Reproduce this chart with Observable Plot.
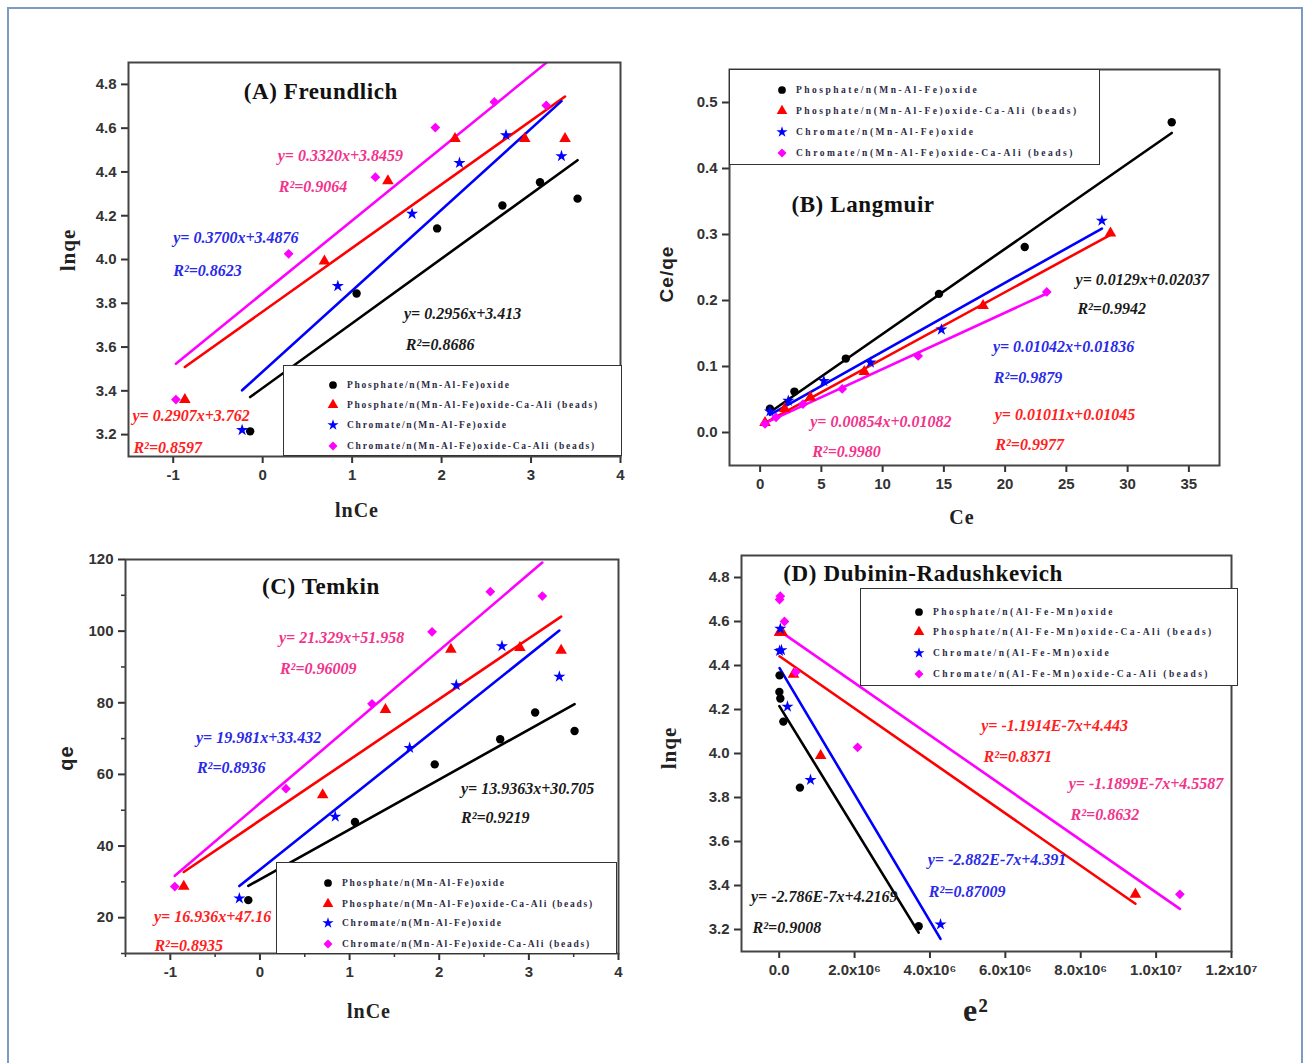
<!DOCTYPE html>
<html>
<head>
<meta charset="utf-8">
<script src="https://cdn.jsdelivr.net/npm/d3@7"></script>
<script src="https://cdn.jsdelivr.net/npm/@observablehq/plot@0.6"></script>
<style>
  html, body { margin: 0; padding: 0; background: #fff; }
  #root { position: relative; width: 1306px; height: 1063px; overflow: hidden; background: #fff; }
  .frame-border { position: absolute; left: 7px; top: 7px; width: 1296px; height: 1100px; border: 2px solid #7b9ac4; box-sizing: border-box; }
  .plotbox { position: absolute; }
  .axlabel { position: absolute; font-family: "Liberation Serif", "Times New Roman", serif; font-weight: bold; color: #222; white-space: nowrap; transform: translate(-50%, -50%); }
  .axlabel.sans { font-family: "Liberation Sans", Arial, sans-serif; }
  .axlabel.rot { transform: translate(-50%, -50%) rotate(-90deg); }
  .legend { position: absolute; background: #fff; border: 1.5px solid #333; box-sizing: border-box; }
  .legtext { position: absolute; font-family: "Liberation Serif", "Times New Roman", serif; font-weight: bold; font-size: 9.5px; color: #2b2b45; white-space: nowrap; transform: translateY(-50%); }
</style>
</head>
<body>
<div id="root"><div class="frame-border"></div></div>
<script>
// ---------------- DATA ----------------
const seriesNames = [
  "Phosphate/n(Mn-Al-Fe)oxide",
  "Phosphate/n(Mn-Al-Fe)oxide-Ca-Ali (beads)",
  "Chromate/n(Mn-Al-Fe)oxide",
  "Chromate/n(Mn-Al-Fe)oxide-Ca-Ali (beads)"
];
const seriesNamesD = [
  "Phosphate/n(Al-Fe-Mn)oxide",
  "Phosphate/n(Al-Fe-Mn)oxide-Ca-Ali (beads)",
  "Chromate/n(Al-Fe-Mn)oxide",
  "Chromate/n(Al-Fe-Mn)oxide-Ca-Ali (beads)"
];

// (A) Freundlich: lnCe vs lnqe
const freundlichX = [
  [-0.14, 1.05, 1.95, 2.68, 3.10, 3.52],
  [-0.87, 0.69, 1.40, 2.15, 2.93, 3.38],
  [-0.23, 0.84, 1.67, 2.20, 2.72, 3.34],
  [-0.97, 0.29, 1.26, 1.93, 2.59, 3.17]
];
const freundlichY = [
  [3.215, 3.845, 4.142, 4.247, 4.353, 4.278],
  [3.360, 3.992, 4.359, 4.552, 4.552, 4.552],
  [3.221, 3.879, 4.209, 4.441, 4.568, 4.472],
  [3.360, 4.026, 4.376, 4.603, 4.720, 4.704]
];
const freundlichSlope = [0.2956, 0.2907, 0.3700, 0.3320];
const freundlichIntercept = [3.413, 3.762, 3.4876, 3.8459];
const freundlichEq = ["y= 0.2956x+3.413", "y= 0.2907x+3.762", "y= 0.3700x+3.4876", "y= 0.3320x+3.8459"];
const freundlichR2 = ["0.8686", "0.8597", "0.8623", "0.9064"];
const freundlichXTicks = [-1, 0, 1, 2, 3, 4];
const freundlichYTicks = [3.2, 3.4, 3.6, 3.8, 4.0, 4.2, 4.4, 4.6, 4.8];

// (B) Langmuir: Ce vs Ce/qe
const langmuirX = [
  [0.8, 2.8, 7.0, 14.6, 21.6, 33.6],
  [0.4, 2.0, 4.1, 8.5, 18.2, 28.6],
  [0.8, 2.3, 5.2, 9.0, 14.8, 27.9],
  [0.4, 1.3, 3.5, 6.7, 12.9, 23.4]
];
const langmuirY = [
  [0.036, 0.062, 0.112, 0.210, 0.281, 0.470],
  [0.015, 0.036, 0.053, 0.092, 0.192, 0.302],
  [0.032, 0.048, 0.078, 0.106, 0.156, 0.321],
  [0.013, 0.023, 0.043, 0.066, 0.116, 0.213]
];
const langmuirSlope = [0.0129, 0.01011, 0.01042, 0.00854];
const langmuirIntercept = [0.02037, 0.01045, 0.01836, 0.01082];
const langmuirEq = ["y= 0.0129x+0.02037", "y= 0.01011x+0.01045", "y= 0.01042x+0.01836", "y= 0.00854x+0.01082"];
const langmuirR2 = ["0.9942", "0.9977", "0.9879", "0.9980"];
const langmuirXTicks = [0, 5, 10, 15, 20, 25, 30, 35];
const langmuirYTicks = [0.0, 0.1, 0.2, 0.3, 0.4, 0.5];

// (C) Temkin: lnCe vs qe
const temkinX = [
  [-0.13, 1.06, 1.95, 2.68, 3.07, 3.51],
  [-0.85, 0.70, 1.40, 2.13, 2.90, 3.36],
  [-0.23, 0.84, 1.67, 2.19, 2.70, 3.34],
  [-0.95, 0.29, 1.25, 1.92, 2.57, 3.15]
];
const temkinY = [
  [24.9, 46.7, 62.8, 69.8, 77.3, 72.1],
  [28.7, 54.3, 78.1, 94.9, 95.4, 94.6],
  [25.4, 48.2, 67.4, 84.9, 95.8, 87.3],
  [28.7, 56.0, 79.7, 99.8, 111.0, 109.8]
];
const temkinSlope = [13.9363, 16.936, 19.981, 21.329];
const temkinIntercept = [30.705, 47.16, 33.432, 51.958];
const temkinEq = ["y= 13.9363x+30.705", "y= 16.936x+47.16", "y= 19.981x+33.432", "y= 21.329x+51.958"];
const temkinR2 = ["0.9219", "0.8935", "0.8936", "0.96009"];
const temkinXTicks = [-1, 0, 1, 2, 3, 4];
const temkinXMinor = [-1.5, -0.5, 0.5, 1.5, 2.5, 3.5];
const temkinYTicks = [20, 40, 60, 80, 100, 120];
const temkinYMinor = [10, 30, 50, 70, 90, 110];

// (D) Dubinin-Radushkevich: e^2 vs lnqe
const drX = [
  [3.70e6, 0.55e6, 0.11e6, 0.03e6, 0.01e6, 0.005e6],
  [9.45e6, 1.10e6, 0.38e6, 0.08e6, 0.02e6, 0.01e6],
  [4.28e6, 0.83e6, 0.22e6, 0.06e6, 0.03e6, 0.01e6],
  [10.63e6, 2.08e6, 0.44e6, 0.14e6, 0.03e6, 0.01e6]
];
const drY = [
  [3.215, 3.845, 4.145, 4.250, 4.355, 4.280],
  [3.360, 3.990, 4.360, 4.550, 4.550, 4.550],
  [3.223, 3.880, 4.213, 4.470, 4.567, 4.466],
  [3.360, 4.028, 4.370, 4.600, 4.715, 4.700]
];
const drSlope = [-2.786e-7, -1.1914e-7, -2.882e-7, -1.1899e-7];
const drIntercept = [4.2169, 4.443, 4.391, 4.5587];
const drEq = ["y= -2.786E-7x+4.2169", "y= -1.1914E-7x+4.443", "y= -2.882E-7x+4.391", "y= -1.1899E-7x+4.5587"];
const drR2 = ["0.9008", "0.8371", "0.87009", "0.8632"];
const drXTicks = [0, 2e6, 4e6, 6e6, 8e6, 10e6, 12e6];
const drXTickLabels = ["0.0", "2.0x10\u2076", "4.0x10\u2076", "6.0x10\u2076", "8.0x10\u2076", "1.0x10\u2077", "1.2x10\u2077"];
const drYTicks = [3.2, 3.4, 3.6, 3.8, 4.0, 4.2, 4.4, 4.6, 4.8];

// ---------------- STYLE / LAYOUT ----------------
const markColors = ["#000000", "#ff0000", "#0000ff", "#ff00ff"];
const textColors = ["#1a1a1a", "#ff2020", "#2a2ae8", "#f2338c"];
const symbolNames = ["circle", "triangle", "star", "diamond2"];
const d3Symbols = [d3.symbolCircle, d3.symbolTriangle, d3.symbolStar, d3.symbolDiamond2];
const symbolR = [4.2, 4.3, 3.8, 4.4];
const intFmt = (d) => String(d);
const oneDec = (d) => d.toFixed(1);

const panels = [
  {
    left: 0, top: 0, width: 650, height: 530, margin: [62, 30, 74, 128],
    xDomain: [-1.5, 4], yDomain: [3.1, 4.9],
    xs: freundlichX, ys: freundlichY, slopes: freundlichSlope, intercepts: freundlichIntercept,
    eqs: freundlichEq, r2: freundlichR2,
    xTicks: freundlichXTicks, yTicks: freundlichYTicks, xFmt: intFmt, yFmt: oneDec,
    title: "(A) Freundlich", titlePos: [0.65, 4.767],
    annPos: [[1.58, 3.753, 1.60, 3.61], [-1.456, 3.285, -1.445, 3.138], [-1.0, 4.097, -1.0, 3.95], [0.168, 4.472, 0.18, 4.33]],
    names: seriesNames,
    legend: { left: 283, top: 365, w: 339, h: 91, rows: [19, 39, 59, 80], sx: 49, tx: 63, ls: 1.75 },
    xLabel: { text: "lnCe", x: 357, y: 510, size: 20, cls: "" },
    yLabel: { text: "lnqe", x: 68, y: 250, size: 21, cls: "rot" }
  },
  {
    left: 650, top: 0, width: 656, height: 530, margin: [69, 87, 65, 79],
    xDomain: [-2.5, 37.5], yDomain: [-0.05, 0.55],
    xs: langmuirX, ys: langmuirY, slopes: langmuirSlope, intercepts: langmuirIntercept,
    eqs: langmuirEq, r2: langmuirR2,
    xTicks: langmuirXTicks, yTicks: langmuirYTicks, xFmt: intFmt, yFmt: oneDec,
    title: "(B) Langmuir", titlePos: [8.4, 0.345],
    annPos: [[25.75, 0.232, 25.9, 0.188], [19.15, 0.027, 19.2, -0.019], [19.0, 0.129, 19.07, 0.083], [4.09, 0.016, 4.25, -0.029]],
    names: seriesNames,
    legend: { left: 729, top: 69, w: 371, h: 96, rows: [19.5, 41, 62, 83], sx: 52, tx: 66, ls: 2.5 },
    xLabel: { text: "Ce", x: 962, y: 517, size: 20, cls: "" },
    yLabel: { text: "Ce/qe", x: 667, y: 274, size: 19, cls: "rot sans" }
  },
  {
    left: 0, top: 530, width: 650, height: 533, margin: [29, 32, 110, 125],
    xDomain: [-1.5, 4], yDomain: [10, 120],
    xs: temkinX, ys: temkinY, slopes: temkinSlope, intercepts: temkinIntercept,
    eqs: temkinEq, r2: temkinR2,
    xTicks: temkinXTicks, yTicks: temkinYTicks, xMinor: temkinXMinor, yMinor: temkinYMinor,
    xFmt: intFmt, yFmt: intFmt,
    title: "(C) Temkin", titlePos: [0.68, 112.5],
    annPos: [[2.243, 56.0, 2.243, 47.8], [-1.183, 20.2, -1.177, 12.25], [-0.714, 70.25, -0.703, 61.75], [0.212, 98.0, 0.223, 89.6]],
    names: seriesNames,
    legend: { left: 276, top: 862, w: 341, h: 92, rows: [20, 40.5, 60, 80.5], sx: 51, tx: 65, ls: 1.75 },
    xLabel: { text: "lnCe", x: 369, y: 1011, size: 20, cls: "" },
    yLabel: { text: "qe", x: 66, y: 758, size: 20, cls: "rot sans" }
  },
  {
    left: 650, top: 530, width: 656, height: 533, margin: [25, 75, 112, 91],
    xDomain: [-1e6, 1.2e7], yDomain: [3.1, 4.9],
    xs: drX, ys: drY, slopes: drSlope, intercepts: drIntercept,
    eqs: drEq, r2: drR2,
    xTicks: drXTicks, yTicks: drYTicks, xFmt: (d) => drXTickLabels[drXTicks.indexOf(d)], yFmt: oneDec,
    title: "(D) Dubinin-Radushkevich", titlePos: [3.82e6, 4.819],
    annPos: [[-0.75e6, 3.348, -0.706e6, 3.209], [5.36e6, 4.124, 5.42e6, 3.985], [3.94e6, 3.515, 3.97e6, 3.371], [7.68e6, 3.86, 7.73e6, 3.72]],
    names: seriesNamesD,
    legend: { left: 860, top: 588, w: 378, h: 98, rows: [22.5, 43, 63.5, 85], sx: 58, tx: 72, ls: 2.45 },
    xLabel: { text: "e\u00b2", x: 976, y: 1010, size: 32, cls: "" },
    yLabel: { text: "lnqe", x: 669, y: 748, size: 21, cls: "rot" }
  }
];

const root = document.getElementById("root");
const tickFont = "Liberation Sans, Arial, sans-serif";
const serif = "Liberation Serif, Times New Roman, serif";

function drawPanel(p) {
  const [mt, mr, mb, ml] = p.margin;
  const marks = [];
  // axes
  marks.push(Plot.axisX(p.xTicks, { anchor: "bottom", tickSize: 7, tickPadding: 6, tickFormat: p.xFmt, fontSize: 15, fontWeight: "bold", fontFamily: tickFont, color: "#333", strokeWidth: 2, label: null }));
  marks.push(Plot.axisY(p.yTicks, { anchor: "left", tickSize: 7, tickPadding: 5, tickFormat: p.yFmt, fontSize: 15, fontWeight: "bold", fontFamily: tickFont, color: "#333", strokeWidth: 2, label: null }));
  if (p.xMinor) marks.push(Plot.axisX(p.xMinor, { anchor: "bottom", tickSize: 4, tickFormat: () => "", color: "#333", strokeWidth: 1.5, label: null }));
  if (p.yMinor) marks.push(Plot.axisY(p.yMinor, { anchor: "left", tickSize: 4, tickFormat: () => "", color: "#333", strokeWidth: 1.5, label: null }));

  // fit lines from printed equations, spanning each series' x extent
  p.slopes.forEach((m, i) => {
    const fit = d3.extent(p.xs[i]).map((x) => ({ x, y: m * x + p.intercepts[i] }));
    marks.push(Plot.line(fit, { x: "x", y: "y", stroke: markColors[i], strokeWidth: 2.6, clip: true }));
  });
  // points
  p.xs.forEach((xs, i) => {
    const rows = xs.map((x, j) => ({ x, y: p.ys[i][j] }));
    marks.push(Plot.dot(rows, { x: "x", y: "y", symbol: symbolNames[i], fill: markColors[i], stroke: "none", r: symbolR[i] }));
  });
  // equations
  p.eqs.forEach((eq, i) => {
    const a = p.annPos[i];
    const ann = [{ x: a[0], y: a[1], t: eq }, { x: a[2], y: a[3], t: "R\u00b2=" + p.r2[i] }];
    marks.push(Plot.text(ann, { x: "x", y: "y", text: "t", textAnchor: "start", fill: textColors[i], fontSize: 16, fontWeight: "bold", fontStyle: "italic", fontFamily: serif }));
  });
  // title
  marks.push(Plot.text([{ x: p.titlePos[0], y: p.titlePos[1], t: p.title }], { x: "x", y: "y", text: "t", textAnchor: "middle", fill: "#111", fontSize: 23, fontWeight: "bold", fontFamily: serif }));
  marks.push(Plot.frame({ stroke: "#444", strokeWidth: 2 }));

  const svg = Plot.plot({
    width: p.width, height: p.height,
    marginTop: mt, marginRight: mr, marginBottom: mb, marginLeft: ml,
    x: { domain: p.xDomain, label: null },
    y: { domain: p.yDomain, label: null },
    style: { background: "transparent", overflow: "visible" },
    marks
  });
  svg.classList.add("plotbox");
  svg.style.left = p.left + "px";
  svg.style.top = p.top + "px";
  svg.style.maxWidth = "none";
  d3.select(svg).selectAll("text").filter(function () { return this.textContent === p.title; }).style("letter-spacing", "0.6px");
  root.appendChild(svg);

  // axis labels
  [p.xLabel, p.yLabel].forEach((L) => {
    const d = document.createElement("div");
    d.className = "axlabel " + L.cls;
    d.textContent = L.text;
    d.style.left = L.x + "px";
    d.style.top = L.y + "px";
    d.style.fontSize = L.size + "px";
    d.style.letterSpacing = "1px";
    root.appendChild(d);
  });

  // legend
  const L = p.legend;
  const box = document.createElement("div");
  box.className = "legend";
  Object.assign(box.style, { left: L.left + "px", top: L.top + "px", width: L.w + "px", height: L.h + "px" });
  p.names.forEach((name, i) => {
    const s = d3.create("svg").attr("width", 16).attr("height", 16)
      .style("position", "absolute").style("left", (L.sx - 8) + "px").style("top", (L.rows[i] - 8) + "px");
    s.append("path").attr("transform", "translate(8,8)")
      .attr("d", d3.symbol(d3Symbols[i], Math.PI * symbolR[i] * symbolR[i] * 0.85)())
      .attr("fill", markColors[i]);
    box.appendChild(s.node());
    const t = document.createElement("div");
    t.className = "legtext";
    t.textContent = name;
    t.style.left = L.tx + "px";
    t.style.top = L.rows[i] + "px";
    t.style.letterSpacing = L.ls + "px";
    box.appendChild(t);
  });
  root.appendChild(box);
}

panels.forEach(drawPanel);
</script>
</body>
</html>
